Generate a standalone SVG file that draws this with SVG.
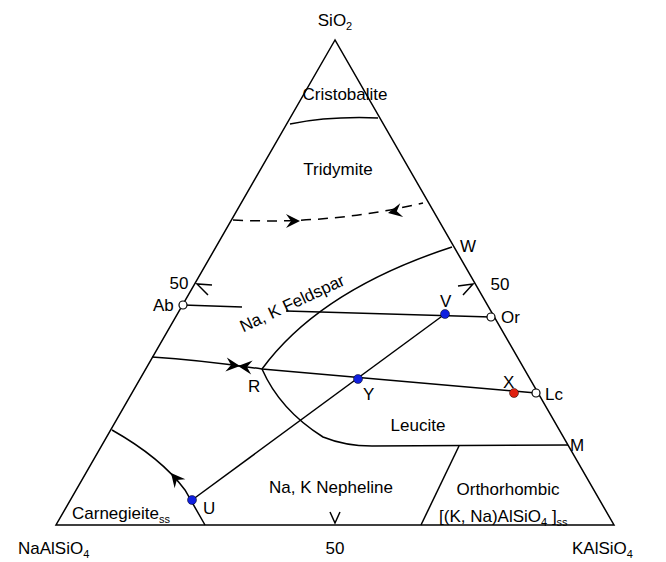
<svg xmlns="http://www.w3.org/2000/svg" width="666" height="562" viewBox="0 0 666 562">
<style>
.l{fill:none;stroke:#000;stroke-width:1.5}
text{font-family:"Liberation Sans",Arial,sans-serif;font-size:17px;fill:#000}
.m{text-anchor:middle}
.s{font-size:11px}
</style>
<defs>
<path id="ah" d="M0,0 L-14,-7 L-9,0 L-14,7 Z" fill="#000"/>
</defs>
<rect width="666" height="562" fill="#fff"/>
<g id="connectors">
<path class="l" d="M335,40 L56,525 L614,525 Z"/>
<path class="l" d="M290,124 Q330,116 378,118"/>
<path class="l" d="M233,220 Q330,225 423,203" stroke-dasharray="10,7"/>
<use href="#ah" transform="translate(300,221)"/>
<use href="#ah" transform="translate(388,213) rotate(168)"/>
<path class="l" d="M183,305 L242,307 M286,311 L491,317"/>
<path class="l" d="M452,247 Q320,290 262,369"/>
<path class="l" d="M152,357 Q200,360 262,369 L536,393"/>
<use href="#ah" transform="translate(240,366) rotate(6)"/>
<use href="#ah" transform="translate(238,366) rotate(186)"/>
<path class="l" d="M192,500 L445,314"/>
<path class="l" d="M262,369 Q280,410 323,437 Q345,446 372,446 L568,445"/>
<path class="l" d="M459,446 L421,525"/>
<path class="l" d="M112,430 C135,443 165,463 185,490 L205,525"/>
<use href="#ah" transform="translate(171,473) rotate(-130)"/>
<path class="l" d="M330,512 L335,523 L340,512"/>
<path class="l" d="M212,285 L197,284 L208,295"/>
<path class="l" d="M458,286 L473,284 L463,295"/>
</g>
<g id="points">
<circle cx="183" cy="305" r="4" fill="#fff" stroke="#000" stroke-width="1.2"/>
<circle cx="491" cy="317" r="4" fill="#fff" stroke="#000" stroke-width="1.2"/>
<circle cx="536" cy="393" r="4" fill="#fff" stroke="#000" stroke-width="1.2"/>
<circle cx="445" cy="314" r="4.5" fill="#1020e0" stroke="#000" stroke-width="0.5"/>
<circle cx="358" cy="379" r="4.5" fill="#1020e0" stroke="#000" stroke-width="0.5"/>
<circle cx="192" cy="500" r="4.5" fill="#1020e0" stroke="#000" stroke-width="0.5"/>
<circle cx="514" cy="393" r="4.5" fill="#e02010" stroke="#000" stroke-width="0.5"/>
</g>
<g id="labels">
<text x="335" y="26" class="m">SiO<tspan class="s" dy="4">2</tspan></text>
<text x="345" y="100" class="m">Cristobalite</text>
<text x="338" y="175" class="m">Tridymite</text>
<text x="460" y="252">W</text>
<text x="179" y="289" class="m">50</text>
<text x="500" y="290" class="m">50</text>
<text x="153" y="311">Ab</text>
<text x="501" y="323">Or</text>
<text x="440" y="307">V</text>
<text x="292" y="309" class="m" transform="rotate(-25 292 303)">Na, K Feldspar</text>
<text x="248" y="392">R</text>
<text x="363" y="400">Y</text>
<text x="503" y="388">X</text>
<text x="545" y="400">Lc</text>
<text x="418" y="431" class="m">Leucite</text>
<text x="570" y="451">M</text>
<text x="331" y="493" class="m">Na, K Nepheline</text>
<text x="508" y="495" class="m">Orthorhombic</text>
<text x="439" y="522">[(K, Na)AlSiO<tspan class="s" dy="4">4</tspan><tspan dy="-4"> ]</tspan><tspan class="s" dy="4">ss</tspan></text>
<text x="72" y="519">Carnegieite<tspan class="s" dy="4">ss</tspan></text>
<text x="203" y="514">U</text>
<text x="18" y="554">NaAlSiO<tspan class="s" dy="4">4</tspan></text>
<text x="335" y="554" class="m">50</text>
<text x="572" y="554">KAlSiO<tspan class="s" dy="4">4</tspan></text>
</g>
</svg>
